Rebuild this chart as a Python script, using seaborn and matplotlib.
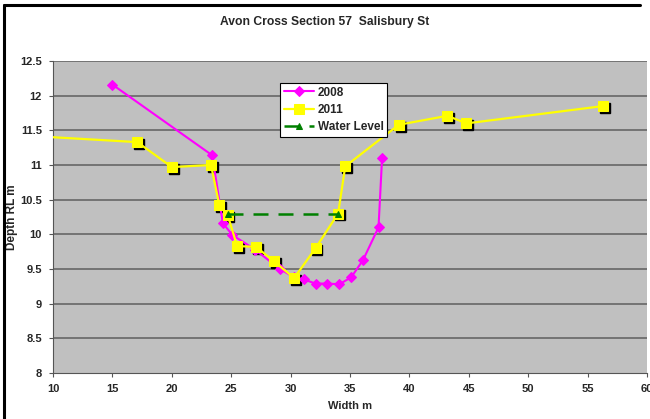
import numpy as np
import pandas as pd
import seaborn as sns
import matplotlib
matplotlib.use("Agg")
import matplotlib.pyplot as plt
from matplotlib.transforms import offset_copy
from matplotlib.lines import Line2D

# ---- data ----
x_2008 = [15.0, 23.4, 24.3, 25.1, 27.0, 29.1, 30.3, 31.1, 32.1, 33.1, 34.1, 35.1, 36.1, 37.4, 37.7]
y_2008 = [12.16, 11.14, 10.16, 9.99, 9.78, 9.50, 9.38, 9.35, 9.29, 9.29, 9.28, 9.38, 9.63, 10.10, 11.10]

x_2011 = [0.0, 17.1, 20.0, 23.3, 24.0, 24.7, 25.5, 27.1, 28.6, 30.3, 32.1, 34.0, 34.6, 39.1, 43.2, 44.8, 56.3]
y_2011 = [11.50, 11.33, 10.97, 11.00, 10.42, 10.28, 9.83, 9.82, 9.61, 9.37, 9.80, 10.30, 10.98, 11.58, 11.71, 11.60, 11.85]

x_water = [24.7, 34.0]
y_water = [10.30, 10.30]

title = "Avon Cross Section 57  Salisbury St"
xlabel = "Width m"
ylabel = "Depth RL m"
xticks = [10, 15, 20, 25, 30, 35, 40, 45, 50, 55, 60]
yticks = [8, 8.5, 9, 9.5, 10, 10.5, 11, 11.5, 12, 12.5]

sns.set_style("white")
plt.rcParams['font.family'] = ['Liberation Sans', 'DejaVu Sans']

fig = plt.figure(figsize=(6.5, 4.19), dpi=100)
ax = fig.add_axes([53/650, 1 - 373/419, (647 - 53)/650, (373 - 61)/419])
ax.set_facecolor('#C0C0C0')

ax.set_xlim(10, 60)
ax.set_ylim(8, 12.5)
for yv in yticks[1:]:
    ax.axhline(yv, color='#6E6E6E', lw=1.3, zorder=0.5)

shadow = offset_copy(ax.transData, fig=fig, x=1.3, y=-1.3, units='points')

# shadows
ax.plot(x_2011, y_2011, ls='none', marker='s', ms=6.5, color='black', transform=shadow, zorder=2)
ax.plot(x_water, y_water, ls='none', marker='^', ms=5, color='black', transform=shadow, zorder=2)

d08 = pd.DataFrame({'x': x_2008, 'y': y_2008})
d11 = pd.DataFrame({'x': x_2011, 'y': y_2011})
dw = pd.DataFrame({'x': x_water, 'y': y_water})

sns.lineplot(data=d08, x='x', y='y', sort=False, estimator=None, ax=ax, color='#FF00FF',
             lw=1.5, marker='D', ms=5, mec='#FF00FF', label='2008', zorder=3)
sns.lineplot(data=d11, x='x', y='y', sort=False, estimator=None, ax=ax, color='#FFFF00',
             lw=1.6, marker='s', ms=6.5, mec='#FFFF00', label='2011', zorder=4)
sns.lineplot(data=dw, x='x', y='y', sort=False, estimator=None, ax=ax, color='#008000',
             lw=1.8, marker='^', ms=5, mec='#008000', label='Water Level', zorder=5,
             dashes=False)
ax.lines[-1].set_dashes([6, 4])

ax.set_xticks(xticks)
ax.set_yticks(yticks)
ax.set_xticklabels([str(t) for t in xticks], fontsize=8, fontweight='bold')
ax.set_yticklabels([('%g' % t) for t in yticks], fontsize=8, fontweight='bold')
ax.tick_params(axis='both', direction='out', length=3, width=0.8, color='#555555', pad=5,
               bottom=True, left=True)
ax.set_xlabel(xlabel, fontsize=8, fontweight='bold', labelpad=5)
ax.set_ylabel(ylabel, fontsize=8.5, fontweight='bold')
ax.yaxis.set_label_coords((18 - 53)/594, 0.5)

for s in ['left', 'bottom']:
    ax.spines[s].set_color('#555555')
    ax.spines[s].set_linewidth(0.8)
for s in ['top', 'right']:
    ax.spines[s].set_visible(False)

fig.text(0.5, 1 - 22/419, title, ha='center', va='center', fontsize=8.7, fontweight='bold')

leg = ax.legend(loc='upper left', bbox_to_anchor=((280 - 53)/594, 1 - (83 - 61)/312),
                frameon=True, fancybox=False, framealpha=1, edgecolor='black',
                prop={'size': 8.5, 'weight': 'bold'}, handlelength=2.6, handletextpad=0.3,
                borderpad=0.3, labelspacing=0.45, borderaxespad=0)
leg.get_frame().set_linewidth(0.8)

# outer chart border (left and top only visible in reference)
fig.lines.append(Line2D([4/650, 4/650], [0, 1 - 5/419], transform=fig.transFigure,
                        color='black', lw=2.2))
fig.lines.append(Line2D([4/650, 640/650], [1 - 5/419, 1 - 5/419], transform=fig.transFigure,
                        color='black', lw=2.2))

fig.savefig('out.png', dpi=100)
